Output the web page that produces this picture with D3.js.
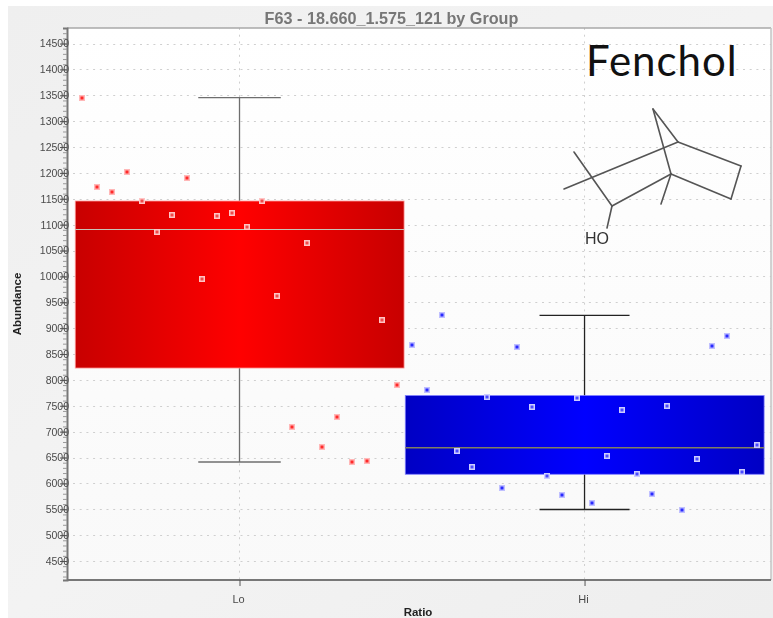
<!DOCTYPE html>
<html><head><meta charset="utf-8">
<script src="https://cdn.jsdelivr.net/npm/d3@7"></script>
<style>html,body{margin:0;padding:0;background:#fff}svg{display:block}text{font-family:"Liberation Sans",Arial,sans-serif}</style>
</head><body><svg id="c" width="773" height="618"></svg>
<script>
const titleText = "F63 - 18.660_1.575_121 by Group";
const groups = ["Lo","Hi"];
const loValues = [13453,11733,11630,12023,11463,10851,11192,11901,9949,11160,11225,10960,11450,9621,7090,10645,6703,7290,6413,6440,9157,7901];
const hiValues = [8667,7804,9247,6632,6310,7669,5917,8641,7482,6136,5769,7656,5621,6523,7412,6181,5789,7489,5486,6465,8655,8842,6226,6748];
const boxQ3 = [11457,7698];
const boxMedian = [10906,6689];
const boxQ1 = [8229,6176];
const whiskerHigh = [13453,9248];
const whiskerLow = [6413,5495];
const majorTicks = [4500,5000,5500,6000,6500,7000,7500,8000,8500,9000,9500,10000,10500,11000,11500,12000,12500,13000,13500,14000,14500];
const moleculeBonds = [[653,109,678,142],[653,109,671,174],[678,142,564,189],[678,142,741,166],[741,166,731,199],[731,199,671,174],[671,174,612,206],[612,206,574,152],[671,174,661,204],[612,206,607,228]];

const svg = d3.select("#c");
const defs = svg.append("defs");
function grad(id, edge, mid){
  const g = defs.append("linearGradient").attr("id",id);
  g.append("stop").attr("offset","0%").attr("stop-color",edge);
  g.append("stop").attr("offset","50%").attr("stop-color",mid);
  g.append("stop").attr("offset","100%").attr("stop-color",edge);
}
grad("gRed","#c80000","#ff0000");
grad("gBlue","#0000c4","#0000ff");
const pg = defs.append("linearGradient").attr("id","gPanel").attr("x1",0).attr("y1",0).attr("x2",1).attr("y2",1);
pg.append("stop").attr("offset","0%").attr("stop-color","#efefef");
pg.append("stop").attr("offset","50%").attr("stop-color","#f3f3f3");
pg.append("stop").attr("offset","100%").attr("stop-color","#eeeeee");
const pl = defs.append("linearGradient").attr("id","gPlot").attr("x1",0).attr("x2",0).attr("y1",0).attr("y2",1);
pl.append("stop").attr("offset","0%").attr("stop-color","#ffffff");
pl.append("stop").attr("offset","100%").attr("stop-color","#f9f9f9");
const soft = defs.append("filter").attr("id","soft").attr("x","-5%").attr("y","-20%").attr("width","110%").attr("height","140%");
soft.append("feGaussianBlur").attr("stdDeviation",0.4);
const blur = defs.append("filter").attr("id","blur").attr("x","-5%").attr("y","-30%").attr("width","110%").attr("height","160%");
blur.append("feGaussianBlur").attr("stdDeviation",0.7);
const dot = defs.append("filter").attr("id","dot").attr("x","-50%").attr("y","-50%").attr("width","200%").attr("height","200%");
dot.append("feGaussianBlur").attr("stdDeviation",0.45);

const L=67,R=771,T=28,B=580;
const x = d3.scaleLinear().domain([-1,45.93]).range([L,R]);
const y = d3.scaleLinear().domain([14800,4133]).range([T,B]);

svg.append("rect").attr("x",8).attr("y",6).attr("width",765).attr("height",612).attr("fill","url(#gPanel)");
svg.append("rect").attr("x",L).attr("y",T).attr("width",R-L).attr("height",B-T).attr("fill","url(#gPlot)");

const series = [loValues,hiValues];
let start=0;
const info = series.map((v,i)=>{const s=start;start+=v.length;return {i,name:groups[i],first:s,last:s+v.length-1,n:v.length,centre:s+(v.length-1)/2};});
const xCat = d3.scaleOrdinal().domain(groups).range(info.map(d=>x(d.centre)));

// gridlines
const grid = svg.append("g").attr("stroke","#cfcfcf").attr("stroke-width",1).attr("stroke-dasharray","2 4.7");
grid.selectAll("line.h").data(majorTicks).join("line").attr("x1",L+6).attr("x2",R).attr("y1",d=>Math.round(y(d))+.5).attr("y2",d=>Math.round(y(d))+.5);
grid.selectAll("line.v").data(info).join("line").attr("x1",d=>x(d.centre)).attr("x2",d=>x(d.centre)).attr("y1",T).attr("y2",B);

// whiskers
const wColor=["#6e6e6e","#222222"];
const wg = svg.append("g");
info.forEach(d=>{
  const cx=x(d.centre), hw=(x(d.n/8)-x(0));
  const g=wg.append("g").attr("stroke",wColor[d.i]).attr("stroke-width",1.3).attr("fill","none");
  g.append("line").attr("x1",cx).attr("x2",cx).attr("y1",y(whiskerHigh[d.i])).attr("y2",y(whiskerLow[d.i]));
  [whiskerHigh[d.i],whiskerLow[d.i]].forEach(v=>g.append("line").attr("x1",cx-hw).attr("x2",cx+hw).attr("y1",y(v)).attr("y2",y(v)));
});

// boxes
const fills=["url(#gRed)","url(#gBlue)"], edge=["#ff9a9a","#8080ff"], med=["#c8c4b8","#807f60"], medW=[1.1,1.6];
info.forEach(d=>{
  const x0=x(d.first-0.45), x1=x(d.last+0.47);
  svg.append("rect").attr("x",x0).attr("width",x1-x0).attr("y",y(boxQ3[d.i])).attr("height",y(boxQ1[d.i])-y(boxQ3[d.i]))
    .attr("fill",fills[d.i]).attr("stroke",edge[d.i]).attr("stroke-width",0.8);
  svg.append("line").attr("x1",x0).attr("x2",x1).attr("y1",y(boxMedian[d.i])).attr("y2",y(boxMedian[d.i])).attr("stroke",med[d.i]).attr("stroke-width",medW[d.i]);
});

// points
const ptColor=["#ff2a2a","#2a2aff"], halo=["#ffb8b8","#c0c0ff"], haloIn=["#ffc4c4","#ccccff"], coreIn=["#f04a4a","#4a4aff"];
info.forEach(d=>{
  series[d.i].forEach((v,k)=>{
    const px=Math.round(x(d.first+k)), py=Math.round(y(v));
    const inBox = v<=boxQ3[d.i]+60 && v>=boxQ1[d.i]-60;
    svg.append("rect").attr("x",px-3).attr("y",py-3).attr("width",6).attr("height",6).attr("fill",inBox?haloIn[d.i]:halo[d.i]).attr("filter",inBox?null:"url(#dot)");
    svg.append("rect").attr("x",px-1.5).attr("y",py-1.5).attr("width",3).attr("height",3).attr("fill",inBox?coreIn[d.i]:ptColor[d.i]);
  });
});

// frame
svg.append("line").attr("x1",L).attr("x2",R).attr("y1",T).attr("y2",T).attr("stroke","#a8a8a8").attr("stroke-width",1.5);
svg.append("line").attr("x1",R).attr("x2",R).attr("y1",T).attr("y2",B).attr("stroke","#c4c4c4").attr("stroke-width",1.5);

// y axis
const minorTicks = d3.range(4200,14800,100);
const yMinor = d3.axisLeft(y).tickValues(minorTicks).tickSize(4).tickFormat("");
const gMinor = svg.append("g").attr("transform",`translate(${L},0)`).call(yMinor);
gMinor.selectAll("line").attr("stroke","#999");
gMinor.select(".domain").attr("stroke","#777").attr("stroke-width",2);
const yAxis = d3.axisLeft(y).tickValues(majorTicks).tickSize(7).tickPadding(-9).tickFormat(d3.format("d"));
const gY = svg.append("g").attr("transform",`translate(${L},0)`).call(yAxis);
gY.select(".domain").remove();
gY.selectAll("line").attr("stroke","#555");
gY.selectAll("text").attr("font-size",10.5).attr("fill","#4a4a4a").attr("filter","url(#soft)");

// x axis
const xAxis = d3.axisBottom(xCat).tickSize(6).tickPadding(9);
const gX = svg.append("g").attr("transform",`translate(0,${B})`).call(xAxis);
gX.select(".domain").attr("d",`M${L},0H${R}`).attr("stroke","#777").attr("stroke-width",2.2);
gX.selectAll("line").attr("stroke","#555");
gX.selectAll("text").attr("font-size",11).attr("fill","#4a4a4a").attr("filter","url(#soft)").attr("dx",-1.5);

// titles
svg.append("text").attr("x",391.5).attr("y",23.5).attr("text-anchor","middle").attr("font-size",16.2).attr("font-weight","bold").attr("fill","#777").attr("filter","url(#blur)").text(titleText);
svg.append("text").attr("transform","translate(21,304) rotate(-90)").attr("text-anchor","middle").attr("font-size",11.5).attr("font-weight","bold").attr("fill","#222").attr("filter","url(#soft)").text("Abundance");
svg.append("text").attr("x",418).attr("y",616).attr("text-anchor","middle").attr("font-size",11.5).attr("font-weight","bold").attr("fill","#222").attr("filter","url(#soft)").text("Ratio");

// annotation
svg.append("text").attr("x",586).attr("y",76).attr("font-size",42).attr("letter-spacing",1).style("font-family","Lato,'Open Sans',sans-serif").attr("fill","#111").text("Fenchol");
svg.append("g").attr("stroke","#555").attr("stroke-width",1.6).attr("stroke-linecap","round")
  .selectAll("line").data(moleculeBonds).join("line").attr("x1",d=>d[0]).attr("y1",d=>d[1]).attr("x2",d=>d[2]).attr("y2",d=>d[3]);
svg.append("text").attr("x",585).attr("y",244).attr("font-size",16).attr("fill","#333").attr("filter","url(#soft)").text("HO");
</script></body></html>
